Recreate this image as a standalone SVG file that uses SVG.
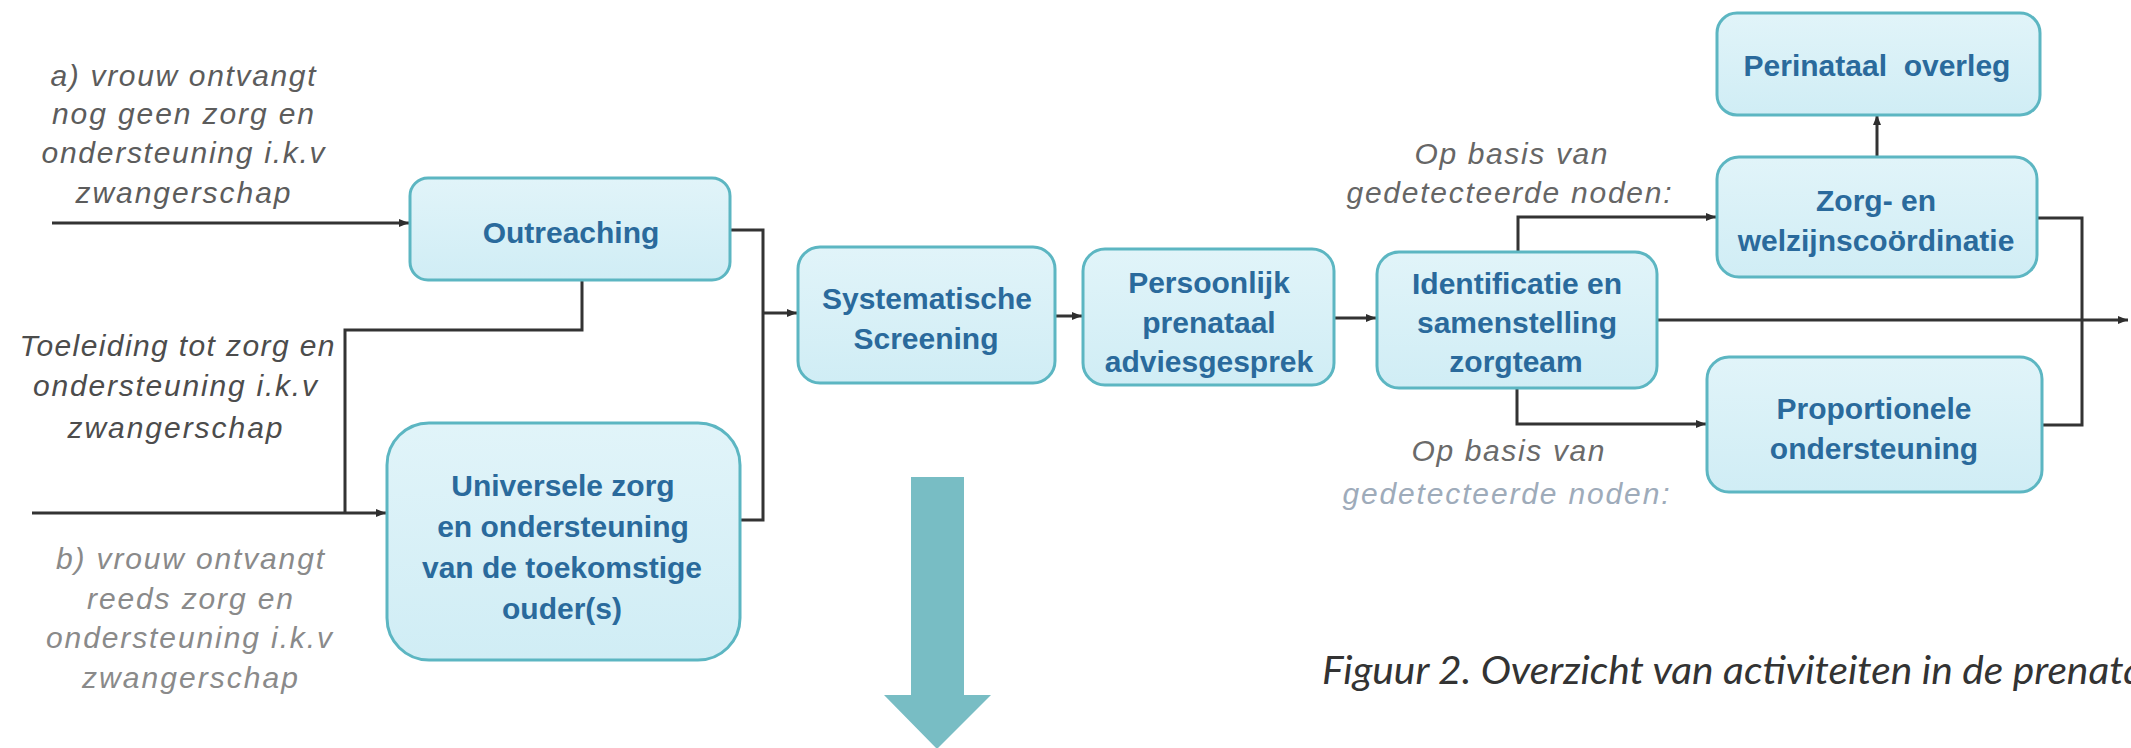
<svg xmlns="http://www.w3.org/2000/svg" width="2131" height="748" viewBox="0 0 2131 748">
  <defs>
    <linearGradient id="boxFill" x1="0" y1="0" x2="0" y2="1">
      <stop offset="0" stop-color="#e1f4f9"/>
      <stop offset="1" stop-color="#d0edf5"/>
    </linearGradient>
    <marker id="arrow" viewBox="0 0 10 10" refX="10" refY="5" markerWidth="10" markerHeight="10" markerUnits="userSpaceOnUse" orient="auto">
      <path d="M0 1 L10 5 L0 9 Z" fill="#2e2e2e"/>
    </marker>
    <style>
      .box { fill: url(#boxFill); stroke: #5cb6c2; stroke-width: 3; }
      .label { font-family: "Liberation Sans", Arial, sans-serif; font-size: 30px; font-weight: bold; fill: #2a6a9c; text-anchor: middle; }
      .note { font-family: "Liberation Sans", Arial, sans-serif; font-size: 30px; font-style: italic; text-anchor: middle; }
      .wire { fill: none; stroke: #333333; stroke-width: 3; }
      .caption { font-family: Lato, "Open Sans", sans-serif; font-size: 39px; font-style: italic; fill: #333333; }
    </style>
  </defs>

  <rect width="2131" height="748" fill="#ffffff"/>

  <!-- side notes -->
  <g id="note-a" class="note" fill="#5c5c5c">
    <text x="183" y="86" textLength="265" lengthAdjust="spacing">a) vrouw ontvangt</text>
    <text x="183" y="124" textLength="262" lengthAdjust="spacing">nog geen zorg en</text>
    <text x="183" y="163" textLength="283" lengthAdjust="spacing">ondersteuning i.k.v</text>
    <text x="183" y="203" textLength="215" lengthAdjust="spacing">zwangerschap</text>
  </g>
  <g id="note-toeleiding" class="note" fill="#4c4c4c">
    <text x="177" y="356" textLength="315" lengthAdjust="spacing">Toeleiding tot zorg en</text>
    <text x="175" y="396" textLength="284" lengthAdjust="spacing">ondersteuning i.k.v</text>
    <text x="175" y="438" textLength="215" lengthAdjust="spacing">zwangerschap</text>
  </g>
  <g id="note-b" class="note" fill="#8a8a8a">
    <text x="190" y="569" textLength="268" lengthAdjust="spacing">b) vrouw ontvangt</text>
    <text x="190" y="609" textLength="206" lengthAdjust="spacing">reeds zorg en</text>
    <text x="189" y="648" textLength="286" lengthAdjust="spacing">ondersteuning i.k.v</text>
    <text x="190" y="688" textLength="216" lengthAdjust="spacing">zwangerschap</text>
  </g>
  <g id="note-upper" class="note" fill="#666666">
    <text x="1511" y="164" textLength="193" lengthAdjust="spacing">Op basis van</text>
    <text x="1509" y="203" textLength="325" lengthAdjust="spacing">gedetecteerde noden:</text>
  </g>
  <g id="note-lower" class="note">
    <text x="1508" y="461" textLength="193" lengthAdjust="spacing" fill="#6a6a6a">Op basis van</text>
    <text x="1506" y="504" textLength="327" lengthAdjust="spacing" fill="#9eabba">gedetecteerde noden:</text>
  </g>

  <!-- connectors -->
  <g id="connectors" class="wire">
    <path d="M52 223 H409" marker-end="url(#arrow)"/>
    <path d="M32 513 H386" marker-end="url(#arrow)"/>
    <path d="M582 280 V330 H345 V513"/>
    <path d="M730 230 H763 V520 H740"/>
    <path d="M763 313 H797" marker-end="url(#arrow)"/>
    <path d="M1055 316 H1082" marker-end="url(#arrow)"/>
    <path d="M1334 318 H1376" marker-end="url(#arrow)"/>
    <path d="M1518 252 V217 H1716" marker-end="url(#arrow)"/>
    <path d="M1517 388 V424 H1706" marker-end="url(#arrow)"/>
    <path d="M1657 320 H2128" marker-end="url(#arrow)"/>
    <path d="M1877 157 V115" marker-end="url(#arrow)"/>
    <path d="M2037 218 H2082 V425 H2042"/>
  </g>

  <!-- activity nodes -->
  <g id="outreaching">
    <rect class="box" x="410" y="178" width="320" height="102" rx="18"/>
    <text class="label" x="571" y="243">Outreaching</text>
  </g>
  <g id="universele-zorg">
    <rect class="box" x="387" y="423" width="353" height="237" rx="42"/>
    <text class="label" x="563" y="496">Universele zorg</text>
    <text class="label" x="563" y="537">en ondersteuning</text>
    <text class="label" x="562" y="578">van de toekomstige</text>
    <text class="label" x="562" y="619">ouder(s)</text>
  </g>
  <g id="systematische-screening">
    <rect class="box" x="798" y="247" width="257" height="136" rx="22"/>
    <text class="label" x="927" y="309">Systematische</text>
    <text class="label" x="926" y="349">Screening</text>
  </g>
  <g id="adviesgesprek">
    <rect class="box" x="1083" y="249" width="251" height="136" rx="22"/>
    <text class="label" x="1209" y="293">Persoonlijk</text>
    <text class="label" x="1209" y="333">prenataal</text>
    <text class="label" x="1209" y="372">adviesgesprek</text>
  </g>
  <g id="identificatie">
    <rect class="box" x="1377" y="252" width="280" height="136" rx="22"/>
    <text class="label" x="1517" y="294">Identificatie en</text>
    <text class="label" x="1517" y="333">samenstelling</text>
    <text class="label" x="1516" y="372">zorgteam</text>
  </g>
  <g id="perinataal-overleg">
    <rect class="box" x="1717" y="13" width="323" height="102" rx="20"/>
    <text class="label" x="1877" y="76" xml:space="preserve">Perinataal  overleg</text>
  </g>
  <g id="zorgcoordinatie">
    <rect class="box" x="1717" y="157" width="320" height="120" rx="22"/>
    <text class="label" x="1876" y="211">Zorg- en</text>
    <text class="label" x="1876" y="251">welzijnscoördinatie</text>
  </g>
  <g id="proportionele-ondersteuning">
    <rect class="box" x="1707" y="357" width="335" height="135" rx="22"/>
    <text class="label" x="1874" y="419">Proportionele</text>
    <text class="label" x="1874" y="459">ondersteuning</text>
  </g>

  <!-- large downward arrow -->
  <g id="down-arrow">
    <polygon points="911,477 964,477 964,695 991,695 937,749 884,695 911,695" fill="#78bdc4"/>
  </g>

  <!-- caption, running off the right edge -->
  <g id="caption">
    <text class="caption" x="1322" y="684" textLength="822" lengthAdjust="spacingAndGlyphs">Figuur 2. Overzicht van activiteiten in de prenata</text>
  </g>
</svg>
